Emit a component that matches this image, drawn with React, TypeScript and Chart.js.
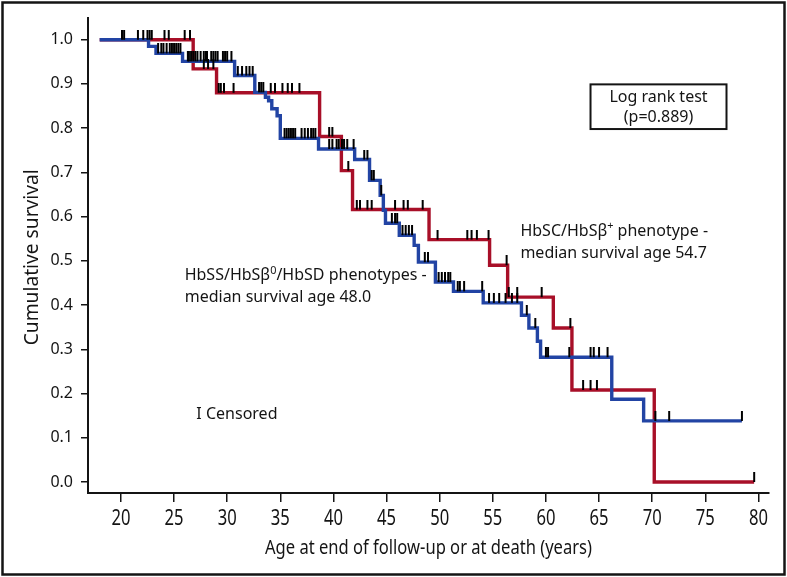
import React, { useEffect, useRef } from 'react';
import { Chart, registerables } from 'chart.js';

Chart.register(...registerables);

// ---- Data ----
const xTickValues = [20, 25, 30, 35, 40, 45, 50, 55, 60, 65, 70, 75, 80];
const yTickValues = [0, 0.1, 0.2, 0.3, 0.4, 0.5, 0.6, 0.7, 0.8, 0.9, 1.0];

// HbSS/HbSβ0/HbSD (blue): step times (age) and survival after the step
const blueTimes = [18.0, 22.6, 23.3, 25.8, 30.7, 32.6, 33.6, 33.9, 34.2, 34.7, 35.0, 38.6, 42.0, 43.4, 44.4, 44.7, 44.9, 46.2, 47.6, 48.0, 49.6, 51.3, 54.1, 57.7, 58.4, 59.2, 59.5, 66.2, 69.2];
const blueSurv = [1.0, 0.985, 0.969, 0.951, 0.919, 0.881, 0.870, 0.862, 0.844, 0.828, 0.777, 0.753, 0.729, 0.682, 0.648, 0.614, 0.585, 0.558, 0.535, 0.497, 0.452, 0.431, 0.405, 0.377, 0.348, 0.318, 0.282, 0.187, 0.138];
const blueEnd = 78.45;
const blueCensored = [20.1, 20.3, 21.6, 22.1, 22.5, 23.5, 23.8, 24.0, 24.3, 24.6, 24.8, 25.0, 25.2, 25.4, 25.6, 26.3, 26.4, 26.6, 26.8, 27.0, 27.2, 27.5, 27.8, 28.0, 28.1, 28.5, 28.7, 28.9, 29.1, 29.6, 29.8, 30.0, 30.4, 31.0, 31.4, 31.8, 32.1, 32.4, 33.0, 33.2, 33.4, 35.4, 35.6, 35.8, 36.0, 36.2, 36.4, 37.0, 37.3, 37.6, 37.9, 38.1, 38.3, 39.6, 39.9, 40.3, 40.5, 40.8, 41.0, 41.3, 41.9, 42.9, 43.2, 43.6, 43.8, 44.5, 45.5, 45.8, 46.0, 46.5, 46.8, 47.1, 47.4, 48.6, 48.9, 49.9, 50.2, 50.5, 50.8, 51.0, 51.7, 51.9, 52.3, 54.0, 54.65, 55.1, 55.6, 56.2, 56.8, 57.3, 58.2, 59.0, 60.0, 60.2, 62.2, 64.2, 64.5, 65.0, 65.8, 70.3, 71.6, 78.45];

// HbSC/HbSβ+ (red)
const redTimes = [18.0, 26.8, 29.0, 38.7, 40.75, 41.8, 49.0, 54.7, 56.4, 60.7, 62.45, 70.2];
const redSurv = [1.0, 0.934, 0.880, 0.781, 0.704, 0.616, 0.548, 0.490, 0.418, 0.348, 0.208, 0.0];
const redEnd = 79.6;
const redCensored = [22.7, 22.9, 24.1, 24.5, 26.0, 26.5, 27.8, 28.2, 28.7, 29.2, 29.4, 29.7, 30.6, 34.1, 34.5, 35.2, 35.7, 36.1, 36.8, 39.6, 39.9, 41.4, 42.2, 42.5, 43.2, 43.6, 45.8, 46.6, 47.0, 48.4, 49.8, 52.6, 53.0, 53.5, 54.6, 56.3, 56.5, 57.3, 59.6, 62.3, 63.5, 64.2, 64.8, 79.6];

const xTitle = 'Age at end of follow-up or at death (years)';
const yTitle = 'Cumulative survival';

const BLUE = '#2244a4';
const RED = '#a80f28';
const INK = '#141414';
const SANS = '"Noto Sans", "Open Sans", sans-serif';

function stepValue(times: number[], surv: number[], t: number) {
  let s = surv[0];
  for (let i = 0; i < times.length; i++) if (times[i] <= t) s = surv[i];
  return s;
}

function curvePoints(times: number[], surv: number[], end: number) {
  const pts = times.map((t, i) => ({ x: t, y: surv[i] }));
  pts.push({ x: end, y: surv[surv.length - 1] });
  return pts;
}

function censorPoints(times: number[], surv: number[], cens: number[]) {
  return cens.map((t) => ({ x: t, y: stepValue(times, surv, t) }));
}

function makeTickImage() {
  const c = document.createElement('canvas');
  c.width = 4;
  c.height = 20;
  const g = c.getContext('2d')!;
  g.fillStyle = '#000';
  g.fillRect(1, 0, 2, 10);
  return c;
}

type Part = [string, boolean];
function drawRich(ctx: CanvasRenderingContext2D, parts: Part[], x: number, y: number, size: number) {
  let cx = x;
  for (const [txt, sup] of parts) {
    const fs = sup ? size * 0.68 : size;
    ctx.font = `${fs}px ${SANS}`;
    ctx.fillText(txt, cx, sup ? y - size * 0.42 : y);
    cx += ctx.measureText(txt).width;
  }
}

// draw text horizontally squeezed by factor sx, centred at (x, y)
function drawCondensed(ctx: CanvasRenderingContext2D, text: string, x: number, y: number, size: number, sx: number, rot = 0) {
  ctx.save();
  ctx.translate(x, y);
  if (rot) ctx.rotate(rot);
  ctx.scale(sx, 1);
  ctx.font = `${size}px ${SANS}`;
  ctx.textAlign = 'center';
  ctx.textBaseline = 'middle';
  ctx.fillText(text, 0, 0);
  ctx.restore();
}

function fitScale(ctx: CanvasRenderingContext2D, text: string, size: number, target: number) {
  ctx.save();
  ctx.font = `${size}px ${SANS}`;
  const w = ctx.measureText(text).width;
  ctx.restore();
  return w > 0 ? target / w : 1;
}

const annotPlugin = {
  id: 'annot',
  afterDraw(chart: any) {
    const ctx: CanvasRenderingContext2D = chart.ctx;
    const xs = chart.scales.x;
    const ys = chart.scales.y;
    const area = chart.chartArea;
    ctx.save();
    // outer frame
    ctx.strokeStyle = INK;
    ctx.lineWidth = 2.5;
    ctx.strokeRect(2.5, 2.5, chart.width - 5, chart.height - 5);

    ctx.fillStyle = INK;

    // x tick labels (condensed face)
    const tickSx = fitScale(ctx, '20', 21, 19);
    for (const v of xTickValues) {
      drawCondensed(ctx, String(v), xs.getPixelForValue(v), area.bottom + 26, 21, tickSx);
    }
    // axis titles
    const xSx = fitScale(ctx, xTitle, 20, 327);
    drawCondensed(ctx, xTitle, (area.left + area.right) / 2, area.bottom + 55, 20, xSx);
    const ySx = fitScale(ctx, yTitle, 20, 176);
    drawCondensed(ctx, yTitle, 32, (area.top + area.bottom) / 2 + 2, 20, ySx, -Math.PI / 2);

    ctx.textBaseline = 'alphabetic';
    ctx.textAlign = 'left';

    // HbSC annotation
    const ax1 = xs.getPixelForValue(57.6);
    drawRich(ctx, [['HbSC/HbSβ', false], ['+', true], [' phenotype -', false]], ax1, ys.getPixelForValue(0.556), 16);
    drawRich(ctx, [['median survival age 54.7', false]], ax1, ys.getPixelForValue(0.507), 16);

    // HbSS annotation
    const ax2 = xs.getPixelForValue(26.0);
    drawRich(ctx, [['HbSS/HbSβ', false], ['0', true], ['/HbSD phenotypes -', false]], ax2, ys.getPixelForValue(0.456), 16);
    drawRich(ctx, [['median survival age 48.0', false]], ax2, ys.getPixelForValue(0.407), 16);

    // Censored legend
    drawRich(ctx, [['I Censored', false]], xs.getPixelForValue(27.1), ys.getPixelForValue(0.142), 16);

    // Log rank box
    const bx0 = xs.getPixelForValue(64.2);
    const bx1 = xs.getPixelForValue(77.0);
    const by0 = ys.getPixelForValue(0.899);
    const by1 = ys.getPixelForValue(0.798);
    ctx.lineWidth = 2;
    ctx.strokeRect(bx0, by0, bx1 - bx0, by1 - by0);
    ctx.textAlign = 'center';
    ctx.font = `16px ${SANS}`;
    const cx = (bx0 + bx1) / 2;
    ctx.fillText('Log rank test', cx, by0 + 18);
    ctx.fillText('(p=0.889)', cx, by0 + 38);
    ctx.restore();
  },
};

export default function App() {
  const ref = useRef<HTMLCanvasElement | null>(null);
  useEffect(() => {
    document.body.style.margin = '0';
    const canvas = ref.current!;
    const tickImg = makeTickImage();
    const chart = new Chart(canvas, {
      type: 'line',
      data: {
        datasets: [
          {
            type: 'scatter',
            label: 'blue censored',
            data: censorPoints(blueTimes, blueSurv, blueCensored),
            pointStyle: tickImg as any,
            pointRadius: 4,
            order: 0,
          } as any,
          {
            type: 'scatter',
            label: 'red censored',
            data: censorPoints(redTimes, redSurv, redCensored),
            pointStyle: tickImg as any,
            pointRadius: 4,
            order: 0,
          } as any,
          {
            label: 'HbSS/HbSβ0/HbSD',
            data: curvePoints(blueTimes, blueSurv, blueEnd),
            borderColor: BLUE,
            borderWidth: 3.4,
            stepped: true,
            pointRadius: 0,
            fill: false,
            order: 1,
          },
          {
            label: 'HbSC/HbSβ+',
            data: curvePoints(redTimes, redSurv, redEnd),
            borderColor: RED,
            borderWidth: 3.4,
            stepped: true,
            pointRadius: 0,
            fill: false,
            order: 2,
          },
        ],
      },
      options: {
        responsive: false,
        animation: false,
        devicePixelRatio: 1,
        layout: { padding: { left: 0, top: 17, right: 18, bottom: 0 } },
        plugins: { legend: { display: false }, tooltip: { enabled: false } },
        scales: {
          x: {
            type: 'linear',
            min: 16.9,
            max: 81,
            afterFit: (s: any) => { s.height = 84; },
            afterBuildTicks: (s: any) => { s.ticks = xTickValues.map((v) => ({ value: v })); },
            grid: { display: true, drawOnChartArea: false, drawTicks: true, tickLength: 9, color: INK, lineWidth: 1.5 },
            border: { display: true, color: INK, width: 2 },
            ticks: { display: false },
            title: { display: false },
          },
          y: {
            type: 'linear',
            min: -0.025,
            max: 1.05,
            afterFit: (s: any) => { s.width = 88; },
            afterBuildTicks: (s: any) => { s.ticks = yTickValues.map((v) => ({ value: v })); },
            grid: { display: true, drawOnChartArea: false, drawTicks: true, tickLength: 7, color: INK, lineWidth: 1.5 },
            border: { display: true, color: INK, width: 2 },
            ticks: { color: INK, font: { family: SANS, size: 16 }, padding: 8, callback: (v: any) => Number(v).toFixed(1) },
            title: { display: false },
          },
        },
      },
      plugins: [annotPlugin],
    });
    return () => chart.destroy();
  }, []);
  return (
    <div style={{ width: 787, height: 577, background: '#fff' }}>
      <canvas ref={ref} width={787} height={577} />
    </div>
  );
}
